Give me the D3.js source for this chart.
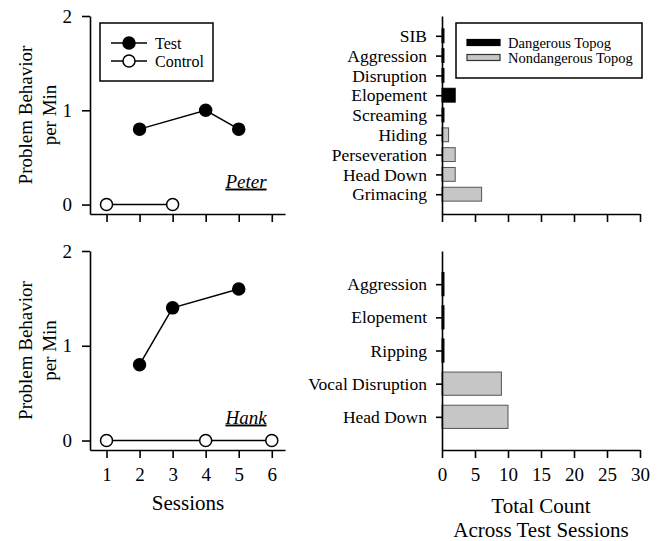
<!DOCTYPE html>
<html>
<head>
<meta charset="utf-8">
<script src="https://cdn.jsdelivr.net/npm/d3@7"></script>
<style>
  body { margin: 0; background: #fff; }
  svg { display: block; }
  svg text { font-family: "Liberation Serif", "Times New Roman", serif; fill: #000; }
  .axis path, .axis line { stroke: #000; stroke-width: 1.6; }
</style>
</head>
<body>
<div id="chart"></div>
<script>
// session data
const sessionTicks = [1, 2, 3, 4, 5, 6];
const rateTicks = [0, 1, 2];
const peterTestSessions = [2, 4, 5];
const peterTestRates = [0.8, 1.0, 0.8];
const peterControlSessions = [1, 3];
const peterControlRates = [0, 0];
const hankTestSessions = [2, 3, 5];
const hankTestRates = [0.8, 1.4, 1.6];
const hankControlSessions = [1, 4, 6];
const hankControlRates = [0, 0, 0];

// topography counts
const peterTopogs = ["SIB", "Aggression", "Disruption", "Elopement", "Screaming", "Hiding", "Perseveration", "Head Down", "Grimacing"];
const peterCounts = [0.3, 0.3, 0.3, 2, 0.3, 1, 2, 2, 6];
const peterDangerous = [true, true, true, true, true, false, false, false, false];
const hankTopogs = ["Aggression", "Elopement", "Ripping", "Vocal Disruption", "Head Down"];
const hankCounts = [0.3, 0.3, 0.3, 9, 10];
const hankDangerous = [true, true, true, false, false];
const countTicks = [0, 5, 10, 15, 20, 25, 30];

const W = 659, H = 541;
const svg = d3.select("#chart").append("svg").attr("width", W).attr("height", H);

const GRAY = "#c6c6c6";
const fmt = d3.format("d");

function linePanel(top, bottom, name, testS, testV, ctrlS, ctrlV, showXLabels) {
  const x = d3.scaleLinear().domain([0.5, 6.4]).range([90, 285]);
  const y = d3.scaleLinear().domain([-0.1, 2]).range([bottom, top]);
  const g = svg.append("g");

  g.append("g").attr("class", "axis").attr("transform", "translate(90,0)")
    .call(d3.axisLeft(y).tickValues(rateTicks).tickFormat(fmt).tickSize(8).tickSizeOuter(0).tickPadding(10))
    .selectAll("text").style("font-size", "19px");

  const ax = g.append("g").attr("class", "axis").attr("transform", `translate(0,${bottom})`)
    .call(d3.axisBottom(x).tickValues(sessionTicks).tickFormat(showXLabels ? fmt : "").tickSize(8).tickSizeOuter(0).tickPadding(10));
  ax.selectAll("text").style("font-size", "19px");

  const mid = (top + bottom) / 2;
  const lab = g.append("text").attr("transform", `translate(25,${mid}) rotate(-90)`)
    .attr("text-anchor", "middle").style("font-size", "19px");
  lab.append("tspan").attr("x", 0).attr("dy", "0.35em").text("Problem Behavior");
  lab.append("tspan").attr("x", 0).attr("dy", "1.3em").text("per Min");

  const line = d3.line().x(d => x(d[0])).y(d => y(d[1]));
  const series = [
    { pts: d3.zip(ctrlS, ctrlV), fill: "#fff" },
    { pts: d3.zip(testS, testV), fill: "#000" }
  ];
  series.forEach(s => {
    g.append("path").attr("d", line(s.pts)).attr("fill", "none").attr("stroke", "#000").attr("stroke-width", 1.5);
    g.selectAll(null).data(s.pts).join("circle")
      .attr("cx", d => x(d[0])).attr("cy", d => y(d[1])).attr("r", 6)
      .attr("fill", s.fill).attr("stroke", "#000").attr("stroke-width", 1.5);
  });

  g.append("text").attr("x", 246).attr("y", y(0) - 17).attr("text-anchor", "middle")
    .style("font-size", "19px").style("font-style", "italic").style("text-decoration", "underline")
    .text(name);
}

function barPanel(top, bottom, cats, counts, danger, showXLabels) {
  const x = d3.scaleLinear().domain([0, 30]).range([442, 640]);
  const y = d3.scalePoint().domain(cats).range([top, bottom]).padding(1);
  const bh = y.step() * 0.7;
  const g = svg.append("g");

  g.selectAll(null).data(cats).join("rect")
    .attr("x", x(0)).attr("y", d => y(d) - bh / 2)
    .attr("width", (d, i) => x(counts[i]) - x(0)).attr("height", bh)
    .attr("fill", (d, i) => danger[i] ? "#000" : GRAY)
    .attr("stroke", (d, i) => danger[i] ? "#000" : "#555").attr("stroke-width", 1);

  g.append("g").attr("class", "axis").attr("transform", "translate(442,0)")
    .call(d3.axisLeft(y).tickSize(6).tickSizeOuter(0).tickPadding(9))
    .selectAll("text").style("font-size", "17.5px");

  const ax = g.append("g").attr("class", "axis").attr("transform", `translate(0,${bottom})`)
    .call(d3.axisBottom(x).tickValues(countTicks).tickFormat(showXLabels ? fmt : "").tickSize(8).tickSizeOuter(0).tickPadding(10));
  ax.selectAll("text").style("font-size", "19px");
}

linePanel(16, 214, "Peter", peterTestSessions, peterTestRates, peterControlSessions, peterControlRates, false);
linePanel(251, 450, "Hank", hankTestSessions, hankTestRates, hankControlSessions, hankControlRates, true);
barPanel(16, 214, peterTopogs, peterCounts, peterDangerous, false);
barPanel(251, 450, hankTopogs, hankCounts, hankDangerous, true);

// x axis titles
svg.append("text").attr("x", 188).attr("y", 510).attr("text-anchor", "middle").style("font-size", "21px").text("Sessions");
svg.append("text").attr("x", 541).attr("y", 513).attr("text-anchor", "middle").style("font-size", "21px").text("Total Count");
svg.append("text").attr("x", 541).attr("y", 537).attr("text-anchor", "middle").style("font-size", "21px").text("Across Test Sessions");

// legend: Test / Control
const lg = svg.append("g");
lg.append("rect").attr("x", 100).attr("y", 23).attr("width", 113).attr("height", 58)
  .attr("fill", "#fff").attr("stroke", "#000").attr("stroke-width", 1.5);
[["Test", "#000", 43], ["Control", "#fff", 61]].forEach(([t, f, cy]) => {
  lg.append("line").attr("x1", 111).attr("x2", 147).attr("y1", cy).attr("y2", cy).attr("stroke", "#000").attr("stroke-width", 1.5);
  lg.append("circle").attr("cx", 129).attr("cy", cy).attr("r", 6).attr("fill", f).attr("stroke", "#000").attr("stroke-width", 1.5);
  lg.append("text").attr("x", 155).attr("y", cy).attr("dy", "0.35em").style("font-size", "16px").text(t);
});

// legend: topography
const rg = svg.append("g");
rg.append("rect").attr("x", 456).attr("y", 23).attr("width", 186).attr("height", 55)
  .attr("fill", "#fff").attr("stroke", "#000").attr("stroke-width", 1.5);
[["Dangerous Topog", "#000", "#000", 42.5], ["Nondangerous Topog", GRAY, "#333", 57.5]].forEach(([t, f, s, cy]) => {
  rg.append("rect").attr("x", 467).attr("y", cy - 3).attr("width", 33).attr("height", 6)
    .attr("fill", f).attr("stroke", s).attr("stroke-width", 1.2);
  rg.append("text").attr("x", 508).attr("y", cy).attr("dy", "0.35em").style("font-size", "14.5px").text(t);
});
</script>
</body>
</html>
